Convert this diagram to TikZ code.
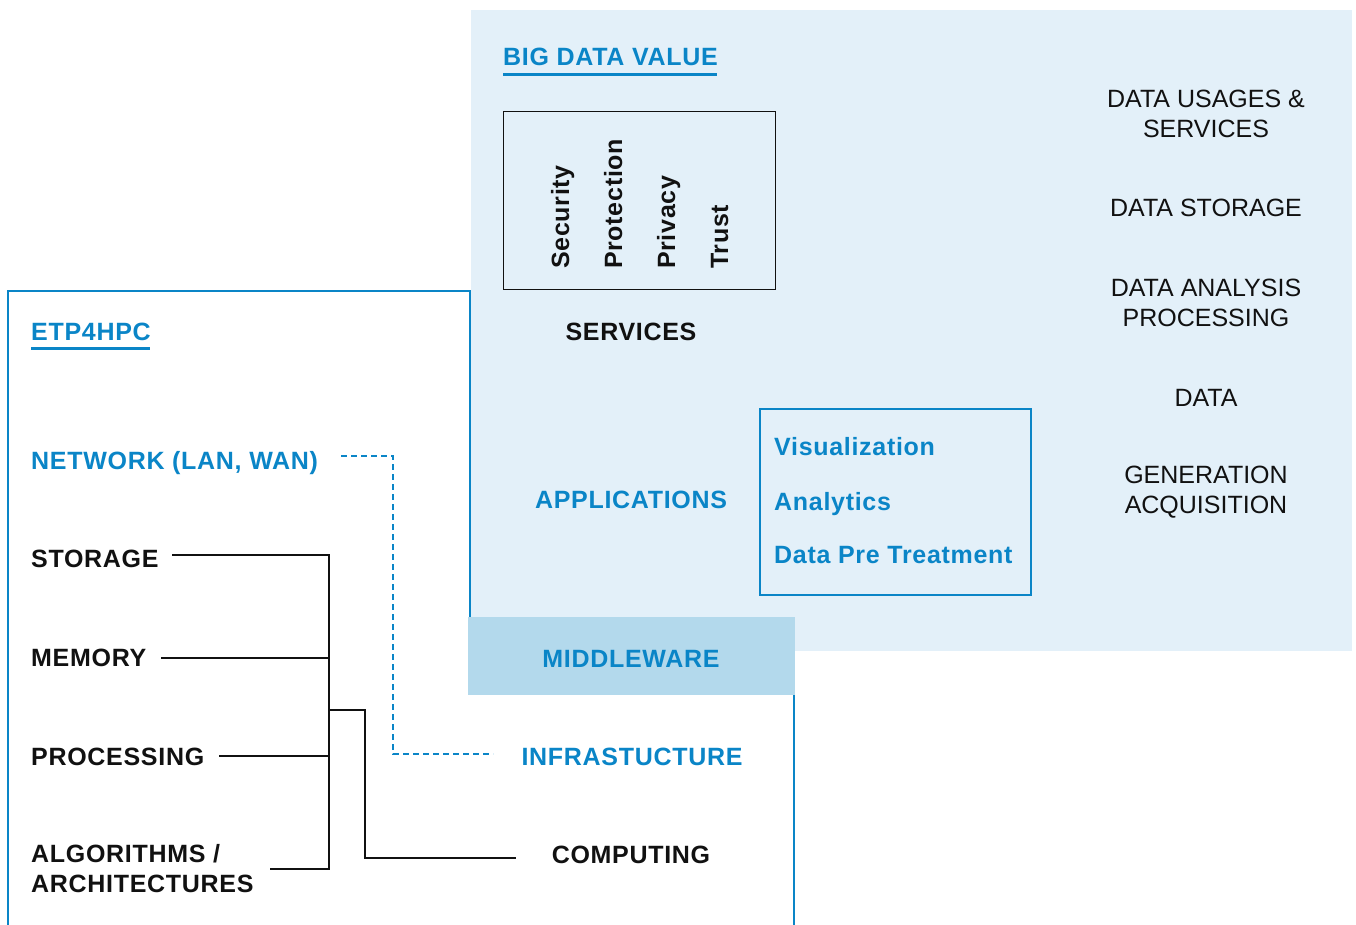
\documentclass[tikz,border=0pt]{standalone}
\usepackage{fontspec}
\setmainfont{Liberation Sans}
\newfontfamily\spbf[LetterSpace=2.8]{Liberation Sans}
\definecolor{bdvblue}{HTML}{0A85C7}
\definecolor{bdvbg}{HTML}{E3F0F9}
\definecolor{mwfill}{HTML}{B3D9EC}
\definecolor{inkblack}{HTML}{111111}
\newcommand\bigfs{\fontsize{25}{30}\selectfont}
\tikzset{
  lbl/.style={inner sep=0pt, font=\bigfs\spbf\bfseries, text=inkblack},
  bluelbl/.style={lbl, text=bdvblue},
  rightlbl/.style={inner sep=0pt, font=\bigfs, text=inkblack, align=center},
  vlbl/.style={lbl, rotate=90, anchor=base west},
  link/.style={draw=inkblack, line width=1.4pt},
  dashlink/.style={draw=bdvblue, line width=2.2pt, dash pattern=on 6pt off 4pt},
  frame/.style={draw=bdvblue, line width=2.8pt},
  uline/.style={draw=bdvblue, line width=3pt},
}
\begin{document}
\begin{tikzpicture}[x=1pt,y=-1pt]
\useasboundingbox (0,0) rectangle (1356,924);
% backgrounds
\fill[bdvbg] (471,10) rectangle (1352,651);
\draw[frame] (8,930) -- (8,291) -- (470,291) -- (470,618);
\draw[frame] (794,694) -- (794,930);
\node[fill=mwfill, minimum width=327pt, minimum height=78pt, inner sep=0pt, anchor=north west] (mw) at (468,617) {};
\node[draw=inkblack, line width=1.3pt, minimum width=272pt, minimum height=178pt, inner sep=0pt, anchor=north west] (servbox) at (503,111) {};
\node[draw=bdvblue, line width=1.6pt, minimum width=271pt, minimum height=186pt, inner sep=0pt, anchor=north west] (appbox) at (759,408) {};

% titles
\node[bluelbl, anchor=base west] (bdv) at (503,65) {BIG DATA VALUE};
\draw[uline] ([yshift=-9pt]bdv.base west) -- ([yshift=-9pt,xshift=-1pt]bdv.base east);
\node[bluelbl, anchor=base west] (etp) at (31,340) {ETP4HPC};
\draw[uline] ([yshift=-8pt]etp.base west) -- ([yshift=-8pt,xshift=-1pt]etp.base east);

% services
\node[vlbl] (sec) at (569,269) {Security};
\node[vlbl] (prot) at (622,269) {Protection};
\node[vlbl] (priv) at (675,269) {Privacy};
\node[vlbl] (trust) at (728,269) {Trust};
\node[lbl, anchor=base] (services) at (631,340) {SERVICES};

% applications
\node[bluelbl, anchor=base] (apps) at (631,508) {APPLICATIONS};
\node[bluelbl, anchor=base west] (vis) at (774,455) {Visualization};
\node[bluelbl, anchor=base west] (ana) at (774,510) {Analytics};
\node[bluelbl, anchor=base west] (dpt) at (774,563) {Data Pre Treatment};

% middleware etc.
\node[bluelbl, anchor=base] (mwl) at (631,667) {MIDDLEWARE};
\node[bluelbl, anchor=base] (infra) at (632,765) {INFRASTUCTURE};
\node[lbl, anchor=base] (comp) at (631,863) {COMPUTING};

% right column
\node[rightlbl] (usage) at (1206,113.5) {DATA USAGES \&\\SERVICES};
\node[rightlbl] (dstore) at (1206,207.5) {DATA STORAGE};
\node[rightlbl] (danal) at (1206,302.5) {DATA ANALYSIS\\PROCESSING};
\node[rightlbl] (data) at (1206,397.5) {DATA};
\node[rightlbl] (gen) at (1206,492) {GENERATION\\ACQUISITION};

% left column
\node[bluelbl, anchor=base west] (net) at (31,469) {NETWORK (LAN, WAN)};
\node[lbl, anchor=base west] (storage) at (31,567) {STORAGE};
\node[lbl, anchor=base west] (memory) at (31,666) {MEMORY};
\node[lbl, anchor=base west] (proc) at (31,765) {PROCESSING};
\node[lbl, anchor=west, align=left] (algo) at (31,869) {ALGORITHMS /\\ARCHITECTURES};

% connector coordinates
\coordinate (storeEnd) at (172,555);
\coordinate (memEnd) at (161,658);
\coordinate (procEnd) at (219,756);
\coordinate (algoEnd) at (270,869);
\coordinate (busTop) at (329,555);
\coordinate (busBot) at (329,869);
\coordinate (busMid) at (329,710);
\coordinate (compEnd) at (516,858);
\coordinate (netEnd) at (341,456);
\coordinate (infraEnd) at (493,754);

\draw[link] (storeEnd) -- (busTop) -- (busBot) -- (algoEnd);
\draw[link] (memEnd) -- (memEnd -| busTop);
\draw[link] (procEnd) -- (procEnd -| busTop);
\draw[link] (busMid) -- ++(36,0) |- (compEnd);
\draw[dashlink] (netEnd) -- ++(52,0) |- (infraEnd);
\end{tikzpicture}
\end{document}
